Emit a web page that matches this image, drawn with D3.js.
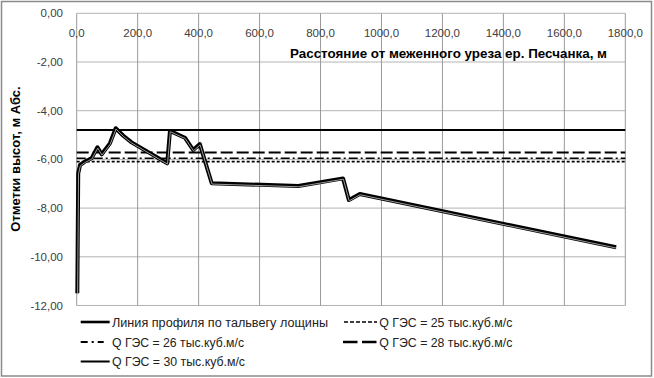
<!DOCTYPE html>
<html><head><meta charset="utf-8">
<script src="https://cdn.jsdelivr.net/npm/d3@7"></script>
<style>
html,body{margin:0;padding:0;background:#fff;}
text{font-family:"Liberation Sans",Arial,sans-serif;}
</style></head>
<body><svg id="c" width="654" height="378"></svg>
<script>
// Data
const profileX = [2, 5, 11, 27, 49, 68, 82, 109, 128, 153, 180, 297, 306, 355, 382, 404, 443, 727, 874, 893, 929, 1770];
const profileY = [-11.50, -6.57, -6.23, -6.09, -5.95, -5.50, -5.79, -5.34, -4.72, -5.03, -5.30, -6.16, -4.83, -5.11, -5.61, -5.37, -6.98, -7.09, -6.78, -7.67, -7.42, -9.61];
const levelNames = ["Q ГЭС = 25 тыс.куб.м/с", "Q ГЭС = 26 тыс.куб.м/с", "Q ГЭС = 28 тыс.куб.м/с", "Q ГЭС = 30 тыс.куб.м/с"];
const levelValues = [-6.09, -5.95, -5.72, -4.79];
const levelRange = [0, 1800];
const xTicks = [0, 200, 400, 600, 800, 1000, 1200, 1400, 1600, 1800];
const yTicks = [0, -2, -4, -6, -8, -10, -12];
const profileName = "Линия профиля по тальвегу лощины";
const xTitle = "Расстояние от меженного уреза ер. Песчанка, м";
const yTitle = "Отметки высот, м Абс.";

const svg = d3.select("#c");
const x = d3.scaleLinear().domain([0, 1800]).range([76.7, 625.3]);
const y = d3.scaleLinear().domain([0, -12]).range([13.3, 305.5]);

svg.append("rect").attr("x", 1.5).attr("y", 1.5).attr("width", 650).attr("height", 374.5)
  .attr("fill", "#fff").attr("stroke", "#8a8a8a").attr("stroke-width", 1.5);

// gridlines
svg.append("g").selectAll("line").data(yTicks).join("line")
  .attr("x1", x(0)).attr("x2", x(1800)).attr("y1", d => y(d)).attr("y2", d => y(d))
  .attr("stroke", "#b4b4b4").attr("stroke-width", 1);
svg.append("g").selectAll("line").data(xTicks).join("line")
  .attr("y1", y(0)).attr("y2", y(-12)).attr("x1", d => x(d)).attr("x2", d => x(d))
  .attr("stroke", "#9a9a9a").attr("stroke-width", 1);

const fmt = (v, n) => v.toFixed(n).replace(".", ",");
// x tick labels (top)
svg.append("g").selectAll("text").data(xTicks).join("text")
  .attr("x", d => x(d)).attr("y", 37).attr("text-anchor", "middle")
  .attr("font-size", 11.5).attr("fill", "#404040").text(d => fmt(d, 1));
// y tick labels
svg.append("g").selectAll("text").data(yTicks).join("text")
  .attr("x", 63).attr("y", d => y(d) + 4).attr("text-anchor", "end")
  .attr("font-size", 11.5).attr("fill", "#404040").text(d => fmt(d, 2));

svg.append("text").attr("x", 290).attr("y", 57.5).attr("font-size", 13).attr("font-weight", "bold")
  .attr("fill", "#000").attr("textLength", 317).attr("lengthAdjust", "spacingAndGlyphs").text(xTitle);
svg.append("text").attr("transform", "translate(20,159) rotate(-90)").attr("text-anchor", "middle")
  .attr("font-size", 13).attr("font-weight", "bold").attr("fill", "#000").text(yTitle);

const styles = [
  {dash: "3,2", w: 1.6},
  {dash: "9,3,2,3", w: 1.6},
  {dash: "12,4", w: 2},
  {dash: null, w: 2}
];

// levels
levelValues.forEach((v, i) => {
  svg.append("line").attr("x1", x(levelRange[0])).attr("x2", x(levelRange[1]))
    .attr("y1", y(v)).attr("y2", y(v)).attr("stroke", "#000")
    .attr("stroke-width", styles[i].w).attr("stroke-dasharray", styles[i].dash);
});

// profile
const pts = profileX.map((d, i) => [d, profileY[i]]);
const line = d3.line().x(d => x(d[0])).y(d => y(d[1]));
svg.append("path").attr("d", line(pts)).attr("fill", "none").attr("stroke", "#000")
  .attr("stroke-width", 4).attr("stroke-linejoin", "round");
svg.append("path").attr("d", line(pts)).attr("fill", "none").attr("stroke", "#9a9a9a")
  .attr("stroke-width", 1).attr("transform", "translate(0.3,0.8)");

// legend
const legend = [
  {name: profileName, dash: null, w: 2.6, lx: 80.7, ly: 322, tw: 216, sw: 29},
  {name: levelNames[0], dash: "4,2", w: 1.6, lx: 344, ly: 322, tw: 133, sw: 33},
  {name: levelNames[1], dash: "7,4,2,4", w: 2, lx: 80.7, ly: 342, tw: 132, sw: 23},
  {name: levelNames[2], dash: "14.5,4.5", w: 2.4, lx: 343, ly: 342, tw: 133, sw: 34},
  {name: levelNames[3], dash: null, w: 2, lx: 80.7, ly: 361.5, tw: 133, sw: 29}
];
const lg = svg.append("g");
legend.forEach(d => {
  lg.append("line").attr("x1", d.lx).attr("x2", d.lx + d.sw).attr("y1", d.ly).attr("y2", d.ly)
    .attr("stroke", "#000").attr("stroke-width", d.w).attr("stroke-dasharray", d.dash);
  lg.append("text").attr("x", d.lx < 100 ? 112 : 379.3).attr("y", d.ly + 4.5).attr("font-size", 12.5)
    .attr("fill", "#222").attr("textLength", d.tw).attr("lengthAdjust", "spacingAndGlyphs").text(d.name);
});
</script></body></html>
